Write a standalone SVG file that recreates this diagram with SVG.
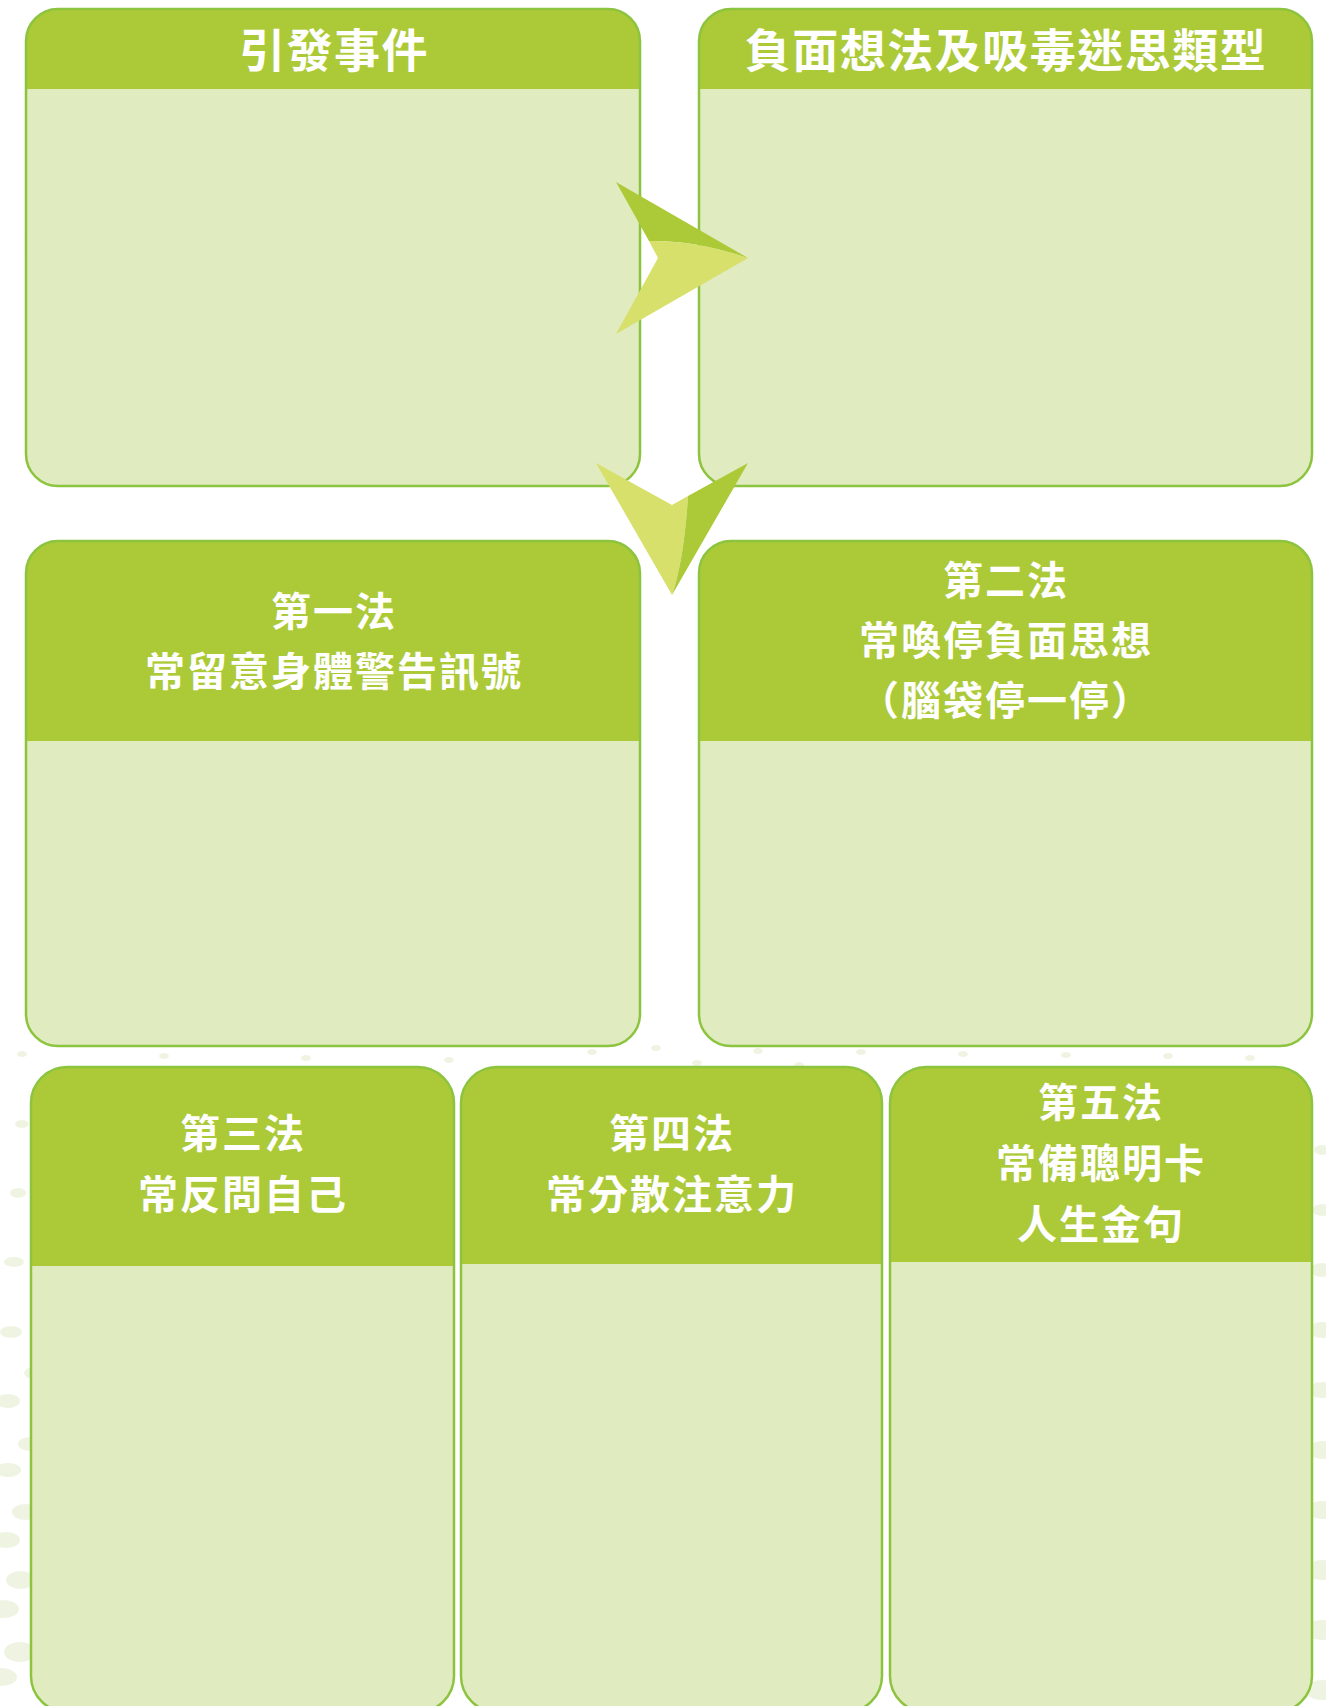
<svg xmlns="http://www.w3.org/2000/svg" width="1326" height="1706" viewBox="0 0 1326 1706">
<style>
.body{fill:#E1EBC0}
.head{fill:#ACCA37}
.outline{fill:none;stroke:#8DC43F;stroke-width:2.5}
.title{font-family:"Noto Sans CJK TC","Noto Sans CJK SC",sans-serif;font-weight:700;font-size:46px;fill:#FFFFFF;text-anchor:middle;letter-spacing:1.5px}
.sub{font-family:"Noto Sans CJK TC","Noto Sans CJK SC",sans-serif;font-weight:700;font-size:40px;fill:#FFFFFF;text-anchor:middle;letter-spacing:2px}
.dot{fill:#E9F0D8;opacity:0.75}
.dk{fill:#ACCA37}
.lt{fill:#D7E06B}
</style>
<rect width="1326" height="1706" fill="#FFFFFF"/>
<g id="background">
<ellipse class="dot" cx="22" cy="1054" rx="5" ry="3"/>
<ellipse class="dot" cx="164" cy="1056" rx="5" ry="3"/>
<ellipse class="dot" cx="306" cy="1058" rx="5" ry="3"/>
<ellipse class="dot" cx="449" cy="1060" rx="5" ry="3"/>
<ellipse class="dot" cx="592" cy="1052" rx="5" ry="3"/>
<ellipse class="dot" cx="656" cy="1048" rx="5" ry="3"/>
<ellipse class="dot" cx="697" cy="1063" rx="5" ry="3"/>
<ellipse class="dot" cx="758" cy="1051" rx="5" ry="3"/>
<ellipse class="dot" cx="799" cy="1065" rx="5" ry="3"/>
<ellipse class="dot" cx="861" cy="1052" rx="5" ry="3"/>
<ellipse class="dot" cx="963" cy="1054" rx="5" ry="3"/>
<ellipse class="dot" cx="1066" cy="1055" rx="5" ry="3"/>
<ellipse class="dot" cx="1107" cy="1070" rx="5" ry="3"/>
<ellipse class="dot" cx="1168" cy="1056" rx="5" ry="3"/>
<ellipse class="dot" cx="1250" cy="1058" rx="5" ry="3"/>
<ellipse class="dot" cx="22" cy="1124" rx="7" ry="4"/>
<ellipse class="dot" cx="18" cy="1193" rx="8" ry="5"/>
<ellipse class="dot" cx="14" cy="1262" rx="10" ry="5"/>
<ellipse class="dot" cx="11" cy="1332" rx="11" ry="6"/>
<ellipse class="dot" cx="8" cy="1401" rx="12" ry="7"/>
<ellipse class="dot" cx="8" cy="1470" rx="13" ry="7"/>
<ellipse class="dot" cx="6" cy="1540" rx="14" ry="8"/>
<ellipse class="dot" cx="4" cy="1609" rx="15" ry="9"/>
<ellipse class="dot" cx="2" cy="1677" rx="15" ry="9"/>
<ellipse class="dot" cx="38" cy="1303" rx="8" ry="5"/>
<ellipse class="dot" cx="34" cy="1373" rx="10" ry="6"/>
<ellipse class="dot" cx="30" cy="1444" rx="12" ry="7"/>
<ellipse class="dot" cx="26" cy="1512" rx="14" ry="8"/>
<ellipse class="dot" cx="21" cy="1580" rx="15" ry="9"/>
<ellipse class="dot" cx="20" cy="1652" rx="16" ry="10"/>
<ellipse class="dot" cx="1322" cy="1150" rx="8" ry="5"/>
<ellipse class="dot" cx="1322" cy="1210" rx="10" ry="6"/>
<ellipse class="dot" cx="1322" cy="1270" rx="12" ry="7"/>
<ellipse class="dot" cx="1322" cy="1330" rx="13" ry="8"/>
<ellipse class="dot" cx="1322" cy="1390" rx="14" ry="8"/>
<ellipse class="dot" cx="1322" cy="1450" rx="15" ry="9"/>
<ellipse class="dot" cx="1322" cy="1510" rx="16" ry="9"/>
<ellipse class="dot" cx="1322" cy="1570" rx="16" ry="10"/>
<ellipse class="dot" cx="1322" cy="1630" rx="17" ry="10"/>
<ellipse class="dot" cx="1322" cy="1690" rx="17" ry="10"/>
</g>
<g id="node-1">
<path class="body" d="M58,9 H608 A32,32 0 0 1 640,41 V454 A32,32 0 0 1 608,486 H58 A32,32 0 0 1 26,454 V41 A32,32 0 0 1 58,9 Z"/>
<path class="head" d="M26,89 V41 A32,32 0 0 1 58,9 H608 A32,32 0 0 1 640,41 V89 Z"/>
<path class="outline" d="M58,9 H608 A32,32 0 0 1 640,41 V454 A32,32 0 0 1 608,486 H58 A32,32 0 0 1 26,454 V41 A32,32 0 0 1 58,9 Z"/>
<text class="title" x="334" y="67">引發事件</text>
</g>
<g id="node-2">
<path class="body" d="M731,9 H1280 A32,32 0 0 1 1312,41 V454 A32,32 0 0 1 1280,486 H731 A32,32 0 0 1 699,454 V41 A32,32 0 0 1 731,9 Z"/>
<path class="head" d="M699,89 V41 A32,32 0 0 1 731,9 H1280 A32,32 0 0 1 1312,41 V89 Z"/>
<path class="outline" d="M731,9 H1280 A32,32 0 0 1 1312,41 V454 A32,32 0 0 1 1280,486 H731 A32,32 0 0 1 699,454 V41 A32,32 0 0 1 731,9 Z"/>
<text class="title" x="1006" y="67">負面想法及吸毒迷思類型</text>
</g>
<g id="node-3">
<path class="body" d="M58,541 H608 A32,32 0 0 1 640,573 V1014 A32,32 0 0 1 608,1046 H58 A32,32 0 0 1 26,1014 V573 A32,32 0 0 1 58,541 Z"/>
<path class="head" d="M26,741 V573 A32,32 0 0 1 58,541 H608 A32,32 0 0 1 640,573 V741 Z"/>
<path class="outline" d="M58,541 H608 A32,32 0 0 1 640,573 V1014 A32,32 0 0 1 608,1046 H58 A32,32 0 0 1 26,1014 V573 A32,32 0 0 1 58,541 Z"/>
<text class="sub" x="334" y="626">第一法</text>
<text class="sub" x="334" y="686">常留意身體警告訊號</text>
</g>
<g id="node-4">
<path class="body" d="M731,541 H1280 A32,32 0 0 1 1312,573 V1014 A32,32 0 0 1 1280,1046 H731 A32,32 0 0 1 699,1014 V573 A32,32 0 0 1 731,541 Z"/>
<path class="head" d="M699,741 V573 A32,32 0 0 1 731,541 H1280 A32,32 0 0 1 1312,573 V741 Z"/>
<path class="outline" d="M731,541 H1280 A32,32 0 0 1 1312,573 V1014 A32,32 0 0 1 1280,1046 H731 A32,32 0 0 1 699,1014 V573 A32,32 0 0 1 731,541 Z"/>
<text class="sub" x="1006" y="595">第二法</text>
<text class="sub" x="1006" y="655">常喚停負面思想</text>
<text class="sub" x="1006" y="715">（腦袋停一停）</text>
</g>
<g id="node-5">
<path class="body" d="M67,1067 H418 A36,36 0 0 1 454,1103 V1676 A36,36 0 0 1 418,1712 H67 A36,36 0 0 1 31,1676 V1103 A36,36 0 0 1 67,1067 Z"/>
<path class="head" d="M31,1266 V1103 A36,36 0 0 1 67,1067 H418 A36,36 0 0 1 454,1103 V1266 Z"/>
<path class="outline" d="M67,1067 H418 A36,36 0 0 1 454,1103 V1676 A36,36 0 0 1 418,1712 H67 A36,36 0 0 1 31,1676 V1103 A36,36 0 0 1 67,1067 Z"/>
<text class="sub" x="243" y="1148">第三法</text>
<text class="sub" x="243" y="1209">常反問自己</text>
</g>
<g id="node-6">
<path class="body" d="M497,1067 H846 A36,36 0 0 1 882,1103 V1676 A36,36 0 0 1 846,1712 H497 A36,36 0 0 1 461,1676 V1103 A36,36 0 0 1 497,1067 Z"/>
<path class="head" d="M461,1264 V1103 A36,36 0 0 1 497,1067 H846 A36,36 0 0 1 882,1103 V1264 Z"/>
<path class="outline" d="M497,1067 H846 A36,36 0 0 1 882,1103 V1676 A36,36 0 0 1 846,1712 H497 A36,36 0 0 1 461,1676 V1103 A36,36 0 0 1 497,1067 Z"/>
<text class="sub" x="672" y="1148">第四法</text>
<text class="sub" x="672" y="1209">常分散注意力</text>
</g>
<g id="node-7">
<path class="body" d="M926,1067 H1276 A36,36 0 0 1 1312,1103 V1676 A36,36 0 0 1 1276,1712 H926 A36,36 0 0 1 890,1676 V1103 A36,36 0 0 1 926,1067 Z"/>
<path class="head" d="M890,1262 V1103 A36,36 0 0 1 926,1067 H1276 A36,36 0 0 1 1312,1103 V1262 Z"/>
<path class="outline" d="M926,1067 H1276 A36,36 0 0 1 1312,1103 V1676 A36,36 0 0 1 1276,1712 H926 A36,36 0 0 1 890,1676 V1103 A36,36 0 0 1 926,1067 Z"/>
<text class="sub" x="1101" y="1117">第五法</text>
<text class="sub" x="1101" y="1178">常備聰明卡</text>
<text class="sub" x="1101" y="1239">人生金句</text>
</g>
<g id="connectors">
<g id="arrow-right">
<path class="dk" d="M616,182 L748,258 Q695,240 649,241 Z"/>
<path class="lt" d="M649,241 Q695,240 748,258 L616,334 L658,258 Z"/>
</g>
<g id="arrow-down">
<path class="lt" d="M596,463 L672,505 L688,496 Q684,560 672,595 Z"/>
<path class="dk" d="M688,496 L748,463 L672,595 Q684,560 688,496 Z"/>
</g>
</g>
</svg>
